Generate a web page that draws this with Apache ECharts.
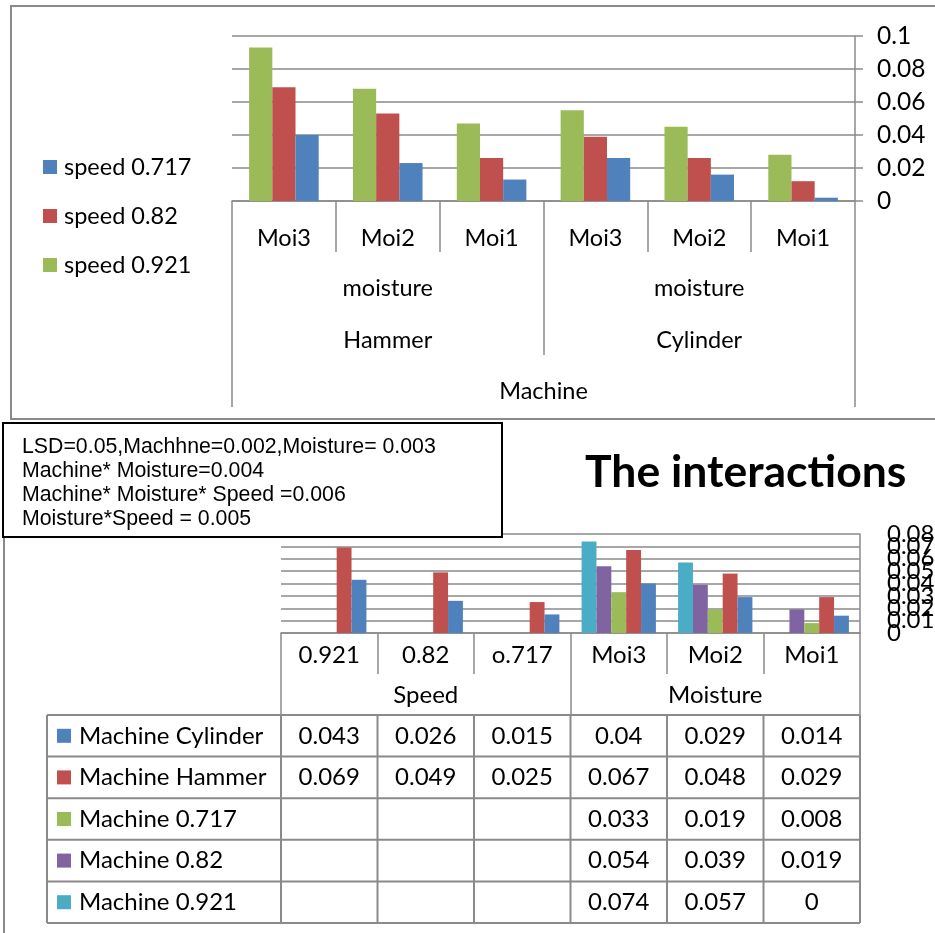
<!DOCTYPE html>
<html>
<head>
<meta charset="utf-8">
<script src="https://cdn.jsdelivr.net/npm/echarts@6/dist/echarts.min.js"></script>
<style>
  html, body { margin: 0; padding: 0; background: #fff; }
  #chart { width: 935px; height: 933px; }
</style>
</head>
<body>
<div id="chart"></div>
<script>
// ---- Machine × moisture chart (bars per speed) ----
const topMoisture = ['Moi3', 'Moi2', 'Moi1', 'Moi3', 'Moi2', 'Moi1'];
const topFactor = ['moisture', 'moisture'];
const topMachines = ['Hammer', 'Cylinder'];
const topOuter = ['Machine'];
const speed921 = [0.093, 0.068, 0.047, 0.055, 0.045, 0.028];
const speed82  = [0.069, 0.053, 0.026, 0.039, 0.026, 0.012];
const speed717 = [0.040, 0.023, 0.013, 0.026, 0.016, 0.002];
const topAxisMin = 0, topAxisMax = 0.1, topAxisStep = 0.02;

// ---- Interaction chart with data table ----
const intCategories = ['0.921', '0.82', 'o.717', 'Moi3', 'Moi2', 'Moi1'];
const intGroups = ['Speed', 'Moisture'];
const machineCylinder = [0.043, 0.026, 0.015, 0.04, 0.029, 0.014];
const machineHammer   = [0.069, 0.049, 0.025, 0.067, 0.048, 0.029];
const machine717      = [null, null, null, 0.033, 0.019, 0.008];
const machine82       = [null, null, null, 0.054, 0.039, 0.019];
const machine921      = [null, null, null, 0.074, 0.057, 0];
const intAxisMin = 0, intAxisMax = 0.08, intAxisStep = 0.01;
const intTickLabels = ['0', '0.01', '0.02', '0.03', '0.04', '0.05', '0.06', '0.07', '0.08'];

const lsdLines = [
  'LSD=0.05,Machhne=0.002,Moisture= 0.003',
  'Machine* Moisture=0.004',
  'Machine* Moisture* Speed =0.006',
  'Moisture*Speed = 0.005'
];
const titleText = 'The interactions';

const C = {
  blue: '#4F81BD', red: '#C0504D', green: '#9BBB59',
  purple: '#8064A2', cyan: '#4BACC6', grid: '#8a8a8a'
};
const FONT = 'Lato, "Open Sans", sans-serif';
const gray = { color: C.grid, width: 1.5 };

const chart = echarts.init(document.getElementById('chart'), null, { renderer: 'canvas' });

function levelAxis(gridIndex, data, tickLen, labelMargin, fontSize, showLine) {
  return {
    type: 'category', gridIndex, data, position: 'bottom', offset: 0,
    boundaryGap: true,
    axisLine: { show: !!showLine, onZero: false, lineStyle: gray },
    axisTick: { show: true, interval: 0, length: tickLen, lineStyle: gray },
    axisLabel: { interval: 0, margin: labelMargin, color: '#000', fontSize, fontFamily: FONT },
    splitLine: { show: false }
  };
}

const bar = (name, data, color, xi, yi) => ({
  name, type: 'bar', data, xAxisIndex: xi, yAxisIndex: yi,
  itemStyle: { color }, barGap: '0%',
  barCategoryGap: xi === 0 ? '33%' : '23%',
  emphasis: { disabled: true }, animation: false
});

chart.setOption({
  animation: false,
  grid: [
    { left: 232, right: 80, top: 36, bottom: 732, containLabel: false, outerBoundsMode: 'none' },
    { left: 281, right: 75, top: 534, bottom: 300, containLabel: false, outerBoundsMode: 'none' }
  ],
  legend: {
    orient: 'vertical', left: 38, top: 150,
    itemWidth: 14, itemHeight: 14, itemGap: 25, icon: 'rect',
    data: ['speed 0.717', 'speed 0.82', 'speed 0.921'],
    textStyle: { fontSize: 23.5, color: '#000', fontFamily: FONT, padding: [0, 0, 0, 2] },
    selectedMode: false
  },
  xAxis: [
    levelAxis(0, topMoisture, 51, 25, 23.5, true),
    levelAxis(0, topFactor, 154, 75, 23.5, false),
    Object.assign(levelAxis(0, topMachines, 0, 127, 23.5, false), { axisTick: { show: false } }),
    levelAxis(0, topOuter, 206, 178, 23.5, false),
    levelAxis(1, intCategories, 41, 10, 24, true),
    levelAxis(1, intGroups, 82, 50, 24, false)
  ],
  yAxis: [
    {
      type: 'value', gridIndex: 0, position: 'right',
      min: topAxisMin, max: topAxisMax, interval: topAxisStep,
      axisLine: { show: true, lineStyle: gray },
      axisTick: { show: true, length: 8, lineStyle: gray },
      axisLabel: { margin: 22, color: '#000', fontSize: 24.5, fontFamily: FONT,
        showMinLabel: true, showMaxLabel: true, hideOverlap: false },
      splitLine: { show: true, lineStyle: { color: C.grid, width: 1.5 } }
    },
    {
      // tick labels of this crowded axis are drawn below as graphic text
      type: 'value', gridIndex: 1, position: 'right',
      min: intAxisMin, max: intAxisMax, interval: intAxisStep,
      axisLine: { show: true, lineStyle: gray },
      axisTick: { show: false },
      axisLabel: { show: false },
      splitLine: { show: true, lineStyle: { color: C.grid, width: 1.5 } }
    }
  ],
  series: [
    bar('speed 0.921', speed921, C.green, 0, 0),
    bar('speed 0.82', speed82, C.red, 0, 0),
    bar('speed 0.717', speed717, C.blue, 0, 0),
    bar('Machine 0.921', machine921, C.cyan, 4, 1),
    bar('Machine 0.82', machine82, C.purple, 4, 1),
    bar('Machine 0.717', machine717, C.green, 4, 1),
    bar('Machine Hammer', machineHammer, C.red, 4, 1),
    bar('Machine Cylinder', machineCylinder, C.blue, 4, 1)
  ]
});

// ---- frames, notes, title and the data table under the interaction chart ----
const tableRows = [
  { name: 'Machine Cylinder', color: C.blue, values: machineCylinder },
  { name: 'Machine Hammer', color: C.red, values: machineHammer },
  { name: 'Machine 0.717', color: C.green, values: machine717 },
  { name: 'Machine 0.82', color: C.purple, values: machine82 },
  { name: 'Machine 0.921', color: C.cyan, values: machine921 }
];

const c0 = chart.convertToPixel({ xAxisIndex: 4 }, 0);
const c1 = chart.convertToPixel({ xAxisIndex: 4 }, 1);
const band = c1 - c0;
const edges = intCategories.map((_, i) => chart.convertToPixel({ xAxisIndex: 4 }, i) - band / 2);
edges.push(edges[edges.length - 1] + band);
const baseY = chart.convertToPixel({ yAxisIndex: 1 }, 0);
const tableTop = baseY + 82;
const rowH = 41.6;
const tableLeft = 47;
const tableRight = edges[edges.length - 1];

const lineStyle = { stroke: C.grid, lineWidth: 2 };
const cellFont = '24px ' + FONT;
const g = [];

// outer frame of the upper chart
g.push({ type: 'polyline', shape: { points: [[935, 6], [11, 6], [11, 419], [935, 419]] },
  style: { fill: null, stroke: C.grid, lineWidth: 2 }, silent: true });
// left border of the lower panel
g.push({ type: 'line', shape: { x1: 4, y1: 537, x2: 4, y2: 933 },
  style: { stroke: C.grid, lineWidth: 2 }, silent: true });
// LSD note box
g.push({ type: 'rect', shape: { x: 3, y: 423, width: 499, height: 114 },
  style: { fill: '#fff', stroke: '#000', lineWidth: 2 }, silent: true });
g.push({ type: 'text', x: 22, y: 435,
  style: { text: lsdLines.join('\n'), font: '21.3px "Liberation Sans", Arial, sans-serif',
    lineHeight: 24, fill: '#000', verticalAlign: 'top' }, silent: true });
// title
g.push({ type: 'text', x: 585, y: 473,
  style: { text: titleText, font: 'bold 44.5px ' + FONT, fill: '#000', verticalAlign: 'middle' }, silent: true });

// crowded value labels of the interaction chart, all kept even where they overlap
const axisX = tableRight;
intTickLabels.forEach(t => {
  g.push({ type: 'text', x: axisX + 27, y: chart.convertToPixel({ yAxisIndex: 1 }, Number(t)),
    style: { text: t, font: '24px ' + FONT, fill: '#000', verticalAlign: 'middle' }, silent: true });
});

// table grid lines
for (let r = 0; r <= tableRows.length; r++) {
  const y = tableTop + r * rowH;
  g.push({ type: 'line', shape: { x1: tableLeft, y1: y, x2: tableRight, y2: y }, style: lineStyle, silent: true });
}
const tableBottom = tableTop + tableRows.length * rowH;
[tableLeft].concat(edges).forEach(x => {
  g.push({ type: 'line', shape: { x1: x, y1: tableTop, x2: x, y2: tableBottom }, style: lineStyle, silent: true });
});
// table rows: legend key, series name and values
tableRows.forEach((row, r) => {
  const cy = tableTop + r * rowH + rowH / 2;
  g.push({ type: 'rect', shape: { x: 57, y: cy - 7, width: 14, height: 14 },
    style: { fill: row.color }, silent: true });
  g.push({ type: 'text', x: 79, y: cy,
    style: { text: row.name, font: cellFont, fill: '#000', verticalAlign: 'middle' }, silent: true });
  row.values.forEach((v, i) => {
    if (v === null || v === undefined) return;
    g.push({ type: 'text', x: (edges[i] + edges[i + 1]) / 2, y: cy,
      style: { text: String(v), font: cellFont, fill: '#000', align: 'center', verticalAlign: 'middle' },
      silent: true });
  });
});

chart.setOption({ graphic: g });
</script>
</body>
</html>
